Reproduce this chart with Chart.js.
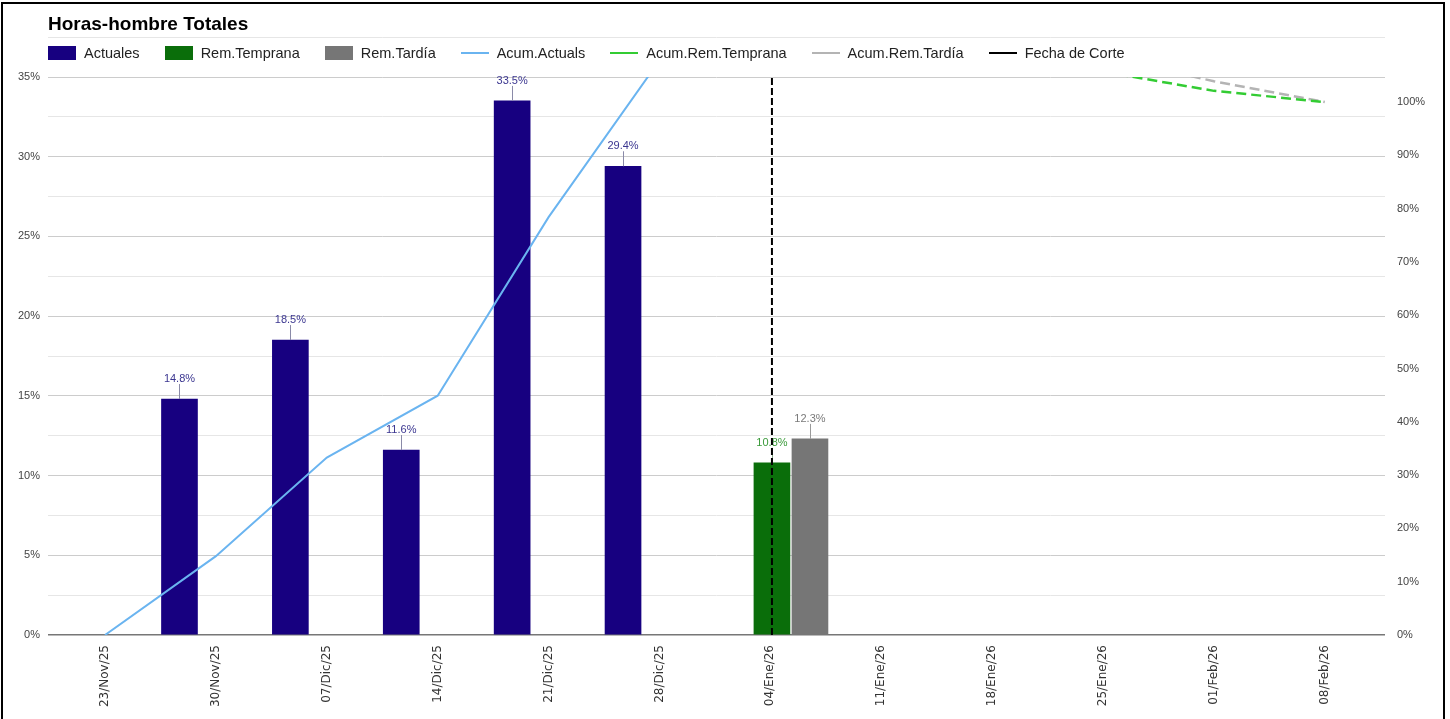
<!DOCTYPE html>
<html>
<head>
<meta charset="utf-8">
<script src="https://cdn.jsdelivr.net/npm/chart.js@4"></script>
<style>
  body { margin: 0; background: #fff; font-family: "Liberation Sans", Arial, sans-serif; }
  #wrap { position: relative; width: 1450px; height: 719px; overflow: hidden; }
  #chart { position: absolute; left: 0; top: 0; }
  #frame { position: absolute; left: 1px; top: 2px; width: 1440px; height: 760px; border: 2px solid #000; pointer-events: none; }
  #title { position: absolute; left: 48px; top: 12px; font-weight: bold; font-size: 19px; line-height: 23px; color: #000; background: #fff; }
  #legend { position: absolute; left: 48px; top: 45px; display: flex; font-size: 14.5px; color: #222; }
  .item { display: flex; align-items: center; height: 16px; margin-right: 25px; white-space: nowrap; }
  .sw { width: 28px; height: 14px; margin-right: 8px; }
  .ln { width: 28px; height: 0; border-top: 2px solid; margin-right: 8px; }
</style>
</head>
<body>
<div id="wrap">
  <canvas id="chart" width="1450" height="719"></canvas>
  <div id="title">Horas-hombre Totales</div>
  <div id="legend"></div>
  <div id="frame"></div>
</div>
<script>
// weekly ticks, as days after 23/Nov/25
const tickDays = [0, 7, 14, 21, 28, 35, 42, 49, 56, 63, 70, 77];
const tickLabels = ["23/Nov/25", "30/Nov/25", "07/Dic/25", "14/Dic/25", "21/Dic/25", "28/Dic/25",
                    "04/Ene/26", "11/Ene/26", "18/Ene/26", "25/Ene/26", "01/Feb/26", "08/Feb/26"];

// weekly bars (%, left axis)
const actualDays = [4.7, 11.7, 18.7, 25.7, 32.7];
const actualValues = [14.8, 18.5, 11.6, 33.5, 29.4];
const tempranaDays = [42.1];
const tempranaValues = [10.8];
const tardiaDays = [44.5];
const tardiaValues = [12.3];

// cumulative lines (%, right axis)
const acumActualDays = [0, 7, 14, 21, 28, 35];
const acumActualValues = [0, 14.8, 33.3, 44.9, 78.4, 107.8];
const acumTempranaDays = [63, 70, 77];
const acumTempranaValues = [105.7, 102.1, 100];
const acumTardiaDays = [63, 70, 77];
const acumTardiaValues = [108.6, 103.9, 100];

// cut-off date
const corteDay = 42.1;

const pts = (xs, ys) => xs.map((x, i) => ({ x, y: ys[i] }));

// value labels with a small leader line above each bar
const barLabels = {
  id: "barLabels",
  afterDatasetDraw(chart, args) {
    const ds = chart.data.datasets[args.index];
    if (ds.type !== "bar") return;
    const ctx = chart.ctx;
    args.meta.data.forEach((bar, j) => {
      ctx.save();
      ctx.strokeStyle = ds.leaderColor;
      ctx.lineWidth = 1;
      ctx.beginPath();
      ctx.moveTo(Math.round(bar.x) + 0.5, bar.y);
      ctx.lineTo(Math.round(bar.x) + 0.5, bar.y - 15);
      ctx.stroke();
      ctx.fillStyle = ds.labelColor;
      ctx.font = "11px 'Liberation Sans', Arial";
      ctx.textAlign = "center";
      ctx.textBaseline = "middle";
      ctx.fillText(ds.data[j].y.toFixed(1) + "%", bar.x, bar.y - 20);
      ctx.restore();
    });
  }
};

// the minor gridline above the plot (37.5%)
const topGrid = {
  id: "topGrid",
  beforeDatasetsDraw(chart) {
    const { ctx, chartArea, scales } = chart;
    const y = Math.round(scales.y.getPixelForValue(37.5)) + 0.5;
    ctx.save();
    ctx.strokeStyle = "#e6e6e6";
    ctx.lineWidth = 1;
    ctx.beginPath();
    ctx.moveTo(chartArea.left, y);
    ctx.lineTo(chartArea.right, y);
    ctx.stroke();
    ctx.restore();
  }
};

const tickFont = { family: "'Liberation Sans', Arial", size: 11 };

const chart = new Chart(document.getElementById("chart"), {
  type: "bar",
  data: {
    datasets: [
      { type: "bar", label: "Actuales", data: pts(actualDays, actualValues), backgroundColor: "#170080",
        yAxisID: "y", order: 2, labelColor: "#3b3690", leaderColor: "#8a8aa8" },
      { type: "bar", label: "Rem.Temprana", data: pts(tempranaDays, tempranaValues), backgroundColor: "#0a6e0a",
        yAxisID: "y", order: 2, labelColor: "#3a9a3a", leaderColor: "#8aaa8a" },
      { type: "bar", label: "Rem.Tardía", data: pts(tardiaDays, tardiaValues), backgroundColor: "#767676",
        yAxisID: "y", order: 2, labelColor: "#7a7a7a", leaderColor: "#9a9a9a" },
      { type: "line", label: "Acum.Actuals", data: pts(acumActualDays, acumActualValues), borderColor: "#6ab4f0",
        borderWidth: 2, yAxisID: "y1", order: 1 },
      { type: "line", label: "Acum.Rem.Temprana", data: pts(acumTempranaDays, acumTempranaValues), borderColor: "#33cc33",
        borderWidth: 2.5, borderDash: [10, 5], yAxisID: "y1", order: 1 },
      { type: "line", label: "Acum.Rem.Tardía", data: pts(acumTardiaDays, acumTardiaValues), borderColor: "#b4b4b4",
        borderWidth: 2.5, borderDash: [10, 5], yAxisID: "y1", order: 1 },
      { type: "line", label: "Fecha de Corte", data: [{ x: corteDay, y: 0 }, { x: corteDay, y: 35 }], borderColor: "#000",
        borderWidth: 2, borderDash: [7, 3], yAxisID: "y", order: 0 }
    ]
  },
  options: {
    responsive: false,
    animation: false,
    layout: { padding: { top: 77, left: 0, right: 0, bottom: 0 } },
    elements: { point: { radius: 0 }, line: { tension: 0 } },
    datasets: { bar: { barThickness: 36, grouped: false } },
    plugins: { legend: { display: false }, title: { display: false }, tooltip: { enabled: false } },
    scales: {
      x: {
        type: "linear", min: -3.6, max: 80.8, offset: false,
        grid: { display: false, drawTicks: false }, border: { display: false },
        afterBuildTicks: s => { s.ticks = tickDays.map(v => ({ value: v })); },
        afterFit: s => { s.height = 84; },
        ticks: {
          autoSkip: false, minRotation: 90, maxRotation: 90, padding: 10, color: "#333",
          font: { family: "'DejaVu Sans'", size: 12 },
          callback: v => tickLabels[tickDays.indexOf(v)]
        }
      },
      y: {
        position: "left", min: 0, max: 35,
        border: { display: false },
        afterFit: s => { s.width = 48; },
        grid: {
          drawTicks: false,
          color: c => c.tick.value === 0 ? "#777" : (c.tick.value % 5 === 0 ? "#cccccc" : "#e6e6e6"),
          lineWidth: c => c.tick.value === 0 ? 1.5 : 1
        },
        ticks: { stepSize: 2.5, padding: 8, color: "#444", font: tickFont,
                 callback: v => v % 5 === 0 ? v + "%" : "" }
      },
      y1: {
        position: "right", min: 0, max: 104.7,
        border: { display: false },
        afterFit: s => { s.width = 65; },
        grid: { display: false, drawTicks: false },
        ticks: { stepSize: 10, padding: 12, color: "#444", font: tickFont,
                 callback: v => v % 10 === 0 ? v + "%" : "" }
      }
    }
  },
  plugins: [topGrid, barLabels]
});

// legend built from the datasets
const legend = document.getElementById("legend");
legend.innerHTML = chart.data.datasets.map(ds => {
  const mark = ds.type === "bar"
    ? `<span class="sw" style="background:${ds.backgroundColor}"></span>`
    : `<span class="ln" style="border-color:${ds.borderColor}"></span>`;
  return `<span class="item">${mark}${ds.label}</span>`;
}).join("");
</script>
</body>
</html>
